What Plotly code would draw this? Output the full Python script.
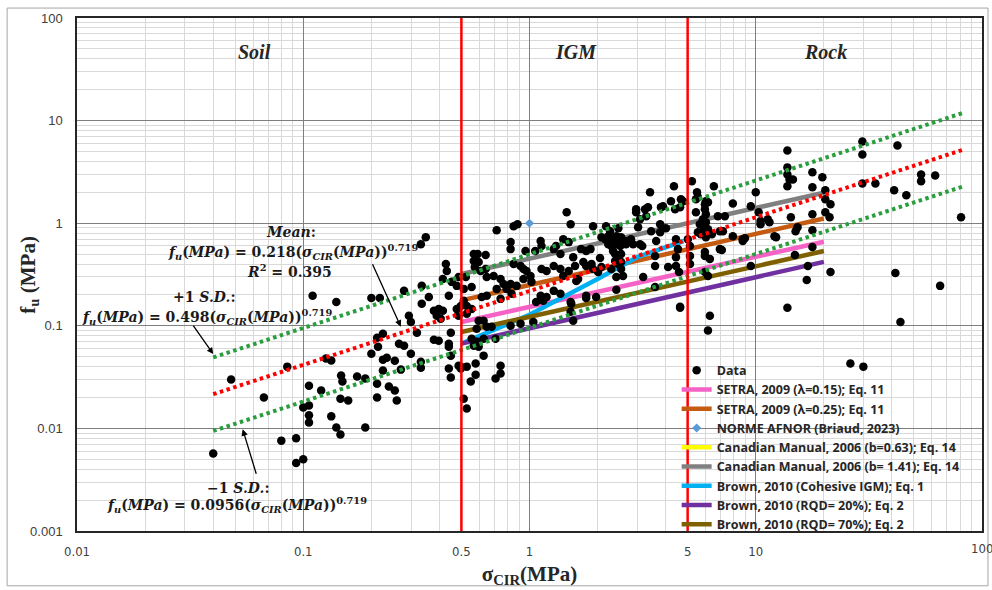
import numpy as np
import plotly.graph_objects as go

# Measured unit side resistance f_u (MPa) against sigma_CIR (MPa)
measured = [
    (0.040, 0.0057), (0.048, 0.030), (0.067, 0.020), (0.080, 0.0076), (0.085, 0.040),
    (0.093, 0.0080), (0.093, 0.0046), (0.100, 0.0050), (0.100, 0.016), (0.106, 0.0167),
    (0.106, 0.0134), (0.106, 0.0114), (0.106, 0.026), (0.110, 0.196), (0.120, 0.0234),
    (0.126, 0.048), (0.133, 0.046), (0.133, 0.0131), (0.140, 0.0102), (0.140, 0.171),
    (0.146, 0.0087), (0.146, 0.0195), (0.158, 0.0187), (0.147, 0.0327), (0.149, 0.0286),
    (0.173, 0.032), (0.188, 0.0306), (0.188, 0.0102), (0.200, 0.0535), (0.200, 0.187),
    (0.212, 0.0764), (0.212, 0.0273), (0.212, 0.020), (0.214, 0.0625), (0.218, 0.187),
    (0.225, 0.0836), (0.225, 0.0468), (0.225, 0.0366), (0.234, 0.0489), (0.239, 0.0256),
    (0.254, 0.0457), (0.254, 0.0234), (0.259, 0.0187), (0.265, 0.0669), (0.270, 0.0374),
    (0.279, 0.064), (0.279, 0.219), (0.293, 0.125), (0.299, 0.109), (0.299, 0.0535),
    (0.318, 0.0855), (0.331, 0.625), (0.348, 0.731), (0.331, 0.0447), (0.331, 0.0391),
    (0.334, 0.245), (0.334, 0.164), (0.359, 0.191), (0.378, 0.0731), (0.378, 0.140),
    (0.389, 0.125), (0.397, 0.0715), (0.397, 0.146), (0.405, 0.117), (0.414, 0.286),
    (0.414, 0.140), (0.427, 0.400), (0.431, 0.342), (0.440, 0.196), (0.440, 0.0669),
    (0.440, 0.0625), (0.440, 0.0383), (0.449, 0.0855), (0.449, 0.0512), (0.449, 0.0313),
    (0.453, 0.268), (0.477, 0.245), (0.477, 0.146), (0.486, 0.125), (0.486, 0.0409),
    (0.497, 0.040),
    (1.46, 1.28), (1.52, 0.978), (0.851, 0.935), (0.885, 0.978), (0.716, 0.855),
    (0.825, 0.654), (0.825, 0.559), (0.567, 0.500), (0.590, 0.500), (0.640, 0.489),
    (0.567, 0.428), (0.596, 0.418), (0.573, 0.374), (0.608, 0.342), (0.640, 0.357),
    (0.523, 0.299), (0.486, 0.299), (0.851, 0.400), (0.913, 0.383), (0.941, 0.357),
    (0.970, 0.342), (0.960, 0.535), (1.12, 0.669), (1.13, 0.598), (1.06, 0.535),
    (1.01, 0.306), (0.647, 0.299), (0.694, 0.306), (0.745, 0.286), (0.768, 0.256),
    (0.512, 0.229), (0.555, 0.239), (0.825, 0.256), (0.877, 0.245), (0.941, 0.286),
    (1.02, 0.268), (1.13, 0.357), (1.19, 0.342), (1.28, 0.383), (1.37, 0.357),
    (1.41, 0.306), (1.49, 0.342), (1.37, 0.500), (1.28, 0.559), (1.31, 0.598),
    (1.41, 0.699), (1.49, 0.654), (1.12, 0.196), (1.19, 0.191), (1.28, 0.219),
    (1.37, 0.205), (1.07, 0.171), (1.15, 0.175), (1.04, 0.109), (0.792, 0.229),
    (0.833, 0.205), (0.716, 0.229), (0.745, 0.183), (0.647, 0.196), (0.615, 0.191),
    (0.528, 0.156), (0.497, 0.156), (0.512, 0.175), (0.486, 0.131), (0.528, 0.131),
    (0.555, 0.146), (0.596, 0.112), (0.627, 0.112), (0.647, 0.098), (0.680, 0.098),
    (0.584, 0.0935), (0.825, 0.100), (0.913, 0.105), (0.555, 0.0748), (0.584, 0.0699),
    (0.627, 0.0748), (0.708, 0.0748), (0.567, 0.064), (0.596, 0.0625), (0.627, 0.0512),
    (0.528, 0.040), (0.578, 0.0428), (0.578, 0.0334), (0.550, 0.0286), (0.745, 0.0409),
    (0.745, 0.0342), (0.708, 0.0306), (0.512, 0.0195), (0.528, 0.0156), (0.497, 0.0383),
    (4.35, 2.29), (3.41, 2.00), (4.22, 1.64), (4.67, 1.71), (2.96, 1.37),
    (2.96, 1.28), (3.24, 1.37), (3.34, 1.43), (3.28, 1.17), (3.81, 1.43),
    (3.89, 1.46), (3.08, 1.09), (4.40, 1.37), (4.63, 1.43), (3.02, 0.914),
    (3.78, 0.978), (4.01, 0.894), (3.45, 0.836), (3.78, 0.818), (3.63, 0.669),
    (4.44, 0.699), (4.53, 0.559), (4.44, 0.467), (3.59, 0.478), (4.10, 0.374),
    (4.44, 0.383), (3.59, 0.383), (4.58, 0.334), (3.18, 0.299), (3.59, 0.239),
    (4.63, 0.153), (1.91, 0.935), (2.18, 0.935), (2.27, 0.836), (2.47, 0.894),
    (2.08, 0.731), (2.16, 0.699), (2.23, 0.748), (2.30, 0.699), (2.42, 0.748),
    (2.47, 0.669), (2.54, 0.731), (2.65, 0.669), (2.67, 0.625), (2.23, 0.625),
    (2.30, 0.598), (2.42, 0.625), (2.52, 0.598), (2.34, 0.535), (2.39, 0.500),
    (2.47, 0.467), (2.54, 0.500), (2.39, 0.428), (2.47, 0.400), (2.54, 0.418),
    (3.08, 0.625), (3.15, 0.598), (2.87, 0.625), (2.81, 0.699), (2.54, 0.357),
    (2.42, 0.299), (2.59, 0.306), (1.69, 0.559), (1.78, 0.535), (1.86, 0.559),
    (1.56, 0.467), (1.59, 0.383), (1.73, 0.418), (1.78, 0.383), (1.88, 0.400),
    (2.05, 0.457), (1.91, 0.357), (2.01, 0.334), (2.08, 0.374), (1.61, 0.274),
    (1.64, 0.286), (2.30, 0.357), (2.42, 0.224), (1.78, 0.196), (1.78, 0.187),
    (1.97, 0.191), (1.52, 0.171), (1.53, 0.164), (1.56, 0.112), (1.52, 0.137),
    (5.22, 2.56), (5.50, 2.00), (5.44, 1.71), (5.55, 1.79), (6.53, 2.29),
    (6.02, 1.64), (5.96, 1.53), (6.15, 1.60), (5.44, 1.28), (5.96, 1.37),
    (6.02, 1.22), (5.84, 1.09), (5.96, 0.935), (6.02, 1.02), (5.66, 0.978),
    (5.55, 0.818), (5.72, 0.782), (5.84, 0.836), (6.02, 0.731), (6.15, 0.875),
    (6.40, 0.782), (6.80, 1.17), (7.30, 1.17), (6.94, 0.836), (7.16, 0.836),
    (7.92, 0.748), (8.76, 0.699), (8.95, 0.715), (6.94, 0.559), (7.08, 0.547),
    (7.92, 1.56), (9.51, 1.46), (10.0, 2.00), (10.3, 1.28), (5.96, 0.478),
    (6.27, 0.447), (5.01, 0.699), (5.12, 0.598), (5.12, 0.478), (5.12, 0.400),
    (5.96, 0.334), (6.15, 0.306), (9.51, 0.383), (6.27, 0.125), (6.15, 0.090),
    (4.77, 1.64), (5.96, 0.523),
    (13.8, 5.11), (13.8, 3.50), (13.8, 2.99), (14.1, 2.67), (14.6, 2.67),
    (13.8, 2.29), (17.8, 3.13), (19.7, 2.80), (17.8, 2.24), (20.3, 2.09),
    (20.3, 1.71), (21.4, 1.53), (20.3, 1.28), (21.2, 1.14), (17.8, 1.22),
    (17.8, 0.855), (14.3, 1.14), (15.0, 0.836), (15.3, 0.914), (29.6, 6.25),
    (29.6, 4.68), (42.3, 5.72), (29.6, 2.44), (33.8, 2.44), (40.9, 2.09),
    (46.3, 1.87), (53.8, 2.99), (53.8, 2.56), (62.1, 2.92), (80.8, 1.14),
    (10.5, 1.05), (10.5, 0.978), (11.3, 1.09), (11.5, 1.02), (12.1, 0.748),
    (12.3, 0.731), (8.76, 0.669), (14.9, 0.489), (17.8, 0.585), (17.0, 0.383),
    (16.8, 0.280), (21.4, 0.334), (41.4, 0.327), (65.3, 0.245), (13.8, 0.150),
    (26.2, 0.0428), (29.9, 0.040), (43.6, 0.109), (4.63, 0.150),
]
sigma_cir = [p[0] for p in measured]
f_u = [p[1] for p in measured]

# Design-method curves (sigma_CIR from 0.5 to 20 MPa)
design_x = [0.5, 20]
setra_015 = [0.109, 0.66]
setra_025 = [0.177, 1.11]
canadian_141 = [0.32, 1.98]
brown_rqd20 = [0.067, 0.42]
brown_rqd70 = [0.087, 0.535]
brown_igm_x = [0.5, 1, 2, 3, 4.8]
brown_igm_y = [0.067, 0.128, 0.286, 0.467, 0.67]
afnor_x = [1.0]
afnor_y = [1.0]

# Power-law fit f_u = a * sigma^b with +/- 1 standard deviation bands
fit_x = np.array([0.04, 82.0])
fit_exp = 0.719
fit_mean = 0.218
fit_plus = 0.498
fit_minus = 0.0956

# Soil / IGM / Rock boundaries (MPa)
boundaries = [0.5, 5]

x_ticks = [0.01, 0.1, 0.5, 1, 5, 10, 100]
x_ticktext = ["0.01", "0.1", "0.5", "1", "5", "10", "100"]
y_ticks = [0.001, 0.01, 0.1, 1, 10, 100]
y_ticktext = ["0.001", "0.01", "0.1", "1", "10", "100"]

LEG_FONT = "Open Sans, Lato, Liberation Sans, sans-serif"
MATH_FONT = "DejaVu Serif, Liberation Serif, serif"
TITLE_FONT = "Liberation Serif, serif"
TICK_X_FONT = "DejaVu Sans Condensed, Liberation Sans Narrow, sans-serif"

fig = go.Figure()

design = [
    ("SETRA, 2009 (\u03bb=0.15); Eq. 11", design_x, setra_015, "#F562C6", 2),
    ("SETRA, 2009 (\u03bb=0.25); Eq. 11", design_x, setra_025, "#C55A11", 3),
    ("Canadian Manual, 2006 (b= 1.41); Eq. 14", design_x, canadian_141, "#808080", 6),
    ("Brown, 2010 (Cohesive IGM); Eq. 1", brown_igm_x, brown_igm_y, "#00B0F0", 7),
    ("Brown, 2010 (RQD= 20%); Eq. 2", design_x, brown_rqd20, "#7030A0", 8),
    ("Brown, 2010 (RQD= 70%); Eq. 2", design_x, brown_rqd70, "#7F6000", 9),
]
for name, xs, ys, color, rank in design:
    fig.add_trace(go.Scatter(x=xs, y=ys, mode="lines", name=name,
                             line=dict(color=color, width=4.5), legendrank=rank))

# Canadian Manual b=0.63 series has no plotted points in this range
fig.add_trace(go.Scatter(x=[None], y=[None], mode="lines",
                         name="Canadian Manual, 2006 (b=0.63); Eq. 14",
                         line=dict(color="#FFFF00", width=4.5), legendrank=5))

fig.add_trace(go.Scatter(x=sigma_cir, y=f_u, mode="markers", name="Data",
                         marker=dict(color="black", size=8.5), legendrank=1))

fig.add_trace(go.Scatter(x=afnor_x, y=afnor_y, mode="markers",
                         name="NORME AFNOR (Briaud, 2023)",
                         marker=dict(color="#5B9BD5", size=7, symbol="diamond"),
                         legendrank=4))

for coef, color in [(fit_plus, "#2A9D3E"), (fit_mean, "#FF0000"), (fit_minus, "#2A9D3E")]:
    fig.add_trace(go.Scatter(x=fit_x, y=coef * fit_x ** fit_exp, mode="lines",
                             showlegend=False, hoverinfo="skip",
                             line=dict(color=color, width=4, dash="3.5px,3.5px")))

for b in boundaries:
    fig.add_trace(go.Scatter(x=[b, b], y=[0.001, 100], mode="lines", showlegend=False,
                             hoverinfo="skip", line=dict(color="#FF0000", width=2.5)))

formula = ("<b><i>f</i><sub><i>u</i></sub>(<i>MPa</i>) = {c}(<i>\u03c3</i><sub><i>CIR</i></sub>"
           "(<i>MPa</i>))<sup>{e}</sup></b>")
math_font = dict(family=MATH_FONT, size=14, color="#1a1a1a")

ann = []
for txt, xv in [("Soil", 0.0608), ("IGM", 1.6), ("Rock", 20.3)]:
    ann.append(dict(x=np.log10(xv), y=np.log10(47), xref="x", yref="y", text="<b><i>%s</i></b>" % txt,
                    showarrow=False, font=dict(family=TITLE_FONT, size=20, color="#262626")))

# equation labels, one annotation per line (positions in log10 units)
eq_lines = [
    ("<b><i>Mean</i>:</b>", -1.053, -0.087),
    (formula.format(c="0.218", e="0.719"), -1.045, -0.282),
    ("<b><i>R</i><sup>2</sup> = 0.395</b>", -1.062, -0.466),
    ("<b>+1 <i>S.D.</i>:</b>", -1.436, -0.718),
    (formula.format(c="0.498", e="0.719"), -1.427, -0.913),
    ("<b>\u22121 <i>S.D.</i>:</b>", -1.286, -2.583),
    (formula.format(c="0.0956", e="0.719"), -1.291, -2.748),
]
for txt, xl, yl in eq_lines:
    ann.append(dict(x=xl, y=yl, xref="x", yref="y", text=txt, showarrow=False, font=math_font))

# leader arrows from the equation labels to their lines
for xv, yv, ax, ay in [(0.27, 0.098, -29, -64), (0.040, 0.053, -21, -30), (0.054, 0.0098, 14, 46)]:
    ann.append(dict(x=np.log10(xv), y=np.log10(yv), xref="x", yref="y", text="",
                    showarrow=True, ax=ax, ay=ay, arrowhead=2, arrowsize=1,
                    arrowwidth=1.3, arrowcolor="black"))

# y axis title
ann.append(dict(x=-0.054, y=0.5, xref="paper", yref="paper", xanchor="center", yanchor="middle",
                textangle=-90, showarrow=False, text="<b>f<sub>u</sub> (MPa)</b>",
                font=dict(family=TITLE_FONT, size=21, color="#262626")))
# last x tick label sits on the page edge
ann.append(dict(x=2, y=0, xref="x", yref="paper", xanchor="center", yanchor="top", yshift=-8,
                showarrow=False, text="100",
                font=dict(family=TICK_X_FONT, size=13, color="#404040")))

fig.update_layout(
    width=992, height=590,
    margin=dict(l=77, r=8, t=18, b=57),
    paper_bgcolor="white", plot_bgcolor="white",
    annotations=ann,
    showlegend=True,
    legend=dict(x=0.6626, y=0.342, xanchor="left", yanchor="top",
                bgcolor="rgba(0,0,0,0)",
                font=dict(family=LEG_FONT, size=12.5, color="#262626", weight="bold"),
                itemwidth=30, tracegroupgap=0),
    shapes=[dict(type="rect", xref="paper", yref="paper", x0=-0.0772, x1=1.0066,
                 y0=-0.1068, y1=1.0194, line=dict(color="#A6A6A6", width=1))],
)
fig.update_xaxes(
    type="log", range=[-2, 2], tickmode="array", tickvals=x_ticks, ticktext=x_ticktext,
    showgrid=True, gridcolor="#7F7F7F", gridwidth=1.2, zeroline=False,
    minor=dict(dtick="D1", showgrid=True, gridcolor="#D9D9D9", gridwidth=1, ticks=""),
    showline=True, linecolor="#262626", linewidth=1.5, mirror=True, ticks="",
    ticklabelstandoff=8,
    tickfont=dict(family=TICK_X_FONT, size=13, color="#404040"),
    title=dict(text="<b>\u03c3<sub>CIR</sub>(MPa)</b>", standoff=8,
               font=dict(family=TITLE_FONT, size=21, color="#262626")),
)
fig.update_yaxes(
    type="log", range=[-3, 2], tickmode="array", tickvals=y_ticks, ticktext=y_ticktext,
    showgrid=True, gridcolor="#7F7F7F", gridwidth=1.2, zeroline=False,
    minor=dict(dtick="D1", showgrid=True, gridcolor="#D9D9D9", gridwidth=1, ticks=""),
    showline=True, linecolor="#262626", linewidth=1.5, mirror=True, ticks="",
    ticklabelstandoff=10,
    tickfont=dict(family="Liberation Sans, sans-serif", size=13, color="#404040"),
)

fig.write_html("out.html")
